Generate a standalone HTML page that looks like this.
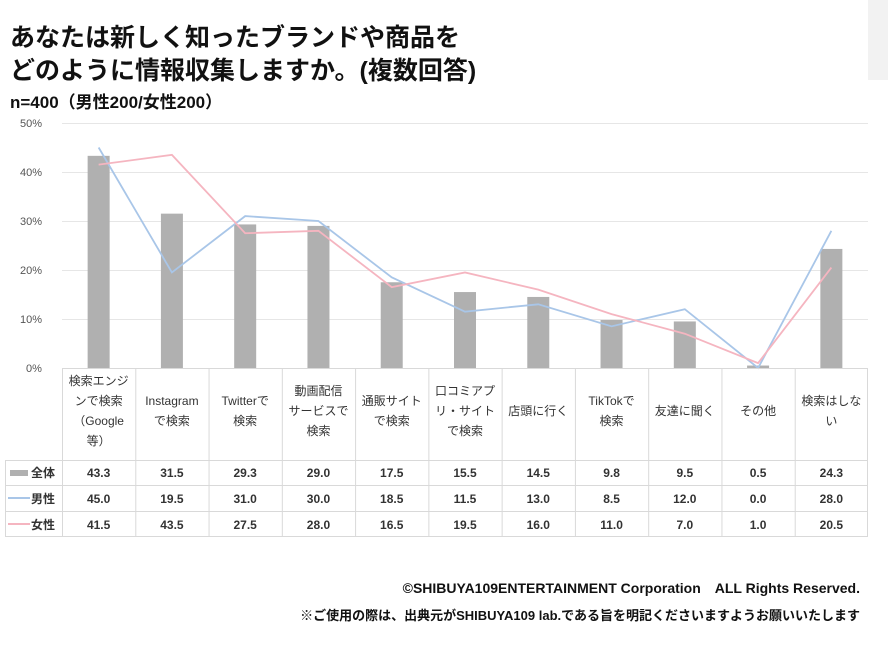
<!DOCTYPE html><html><head><meta charset="utf-8"><style>
body{margin:0;background:#fff;width:888px;height:654px;overflow:hidden;font-family:"Liberation Sans","Noto Sans CJK JP",sans-serif}
text{font-family:"Liberation Sans","Noto Sans CJK JP",sans-serif}
</style></head><body>
<svg width="888" height="654" xmlns="http://www.w3.org/2000/svg">
<rect x="868" y="0" width="20" height="80" fill="#f2f2f2"/>
<g font-weight="bold" fill="#111">
<text x="10" y="46" font-size="25">あなたは新しく知ったブランドや商品を</text>
<text x="10" y="79" font-size="25">どのように情報収集しますか。(複数回答)</text>
<text x="10" y="108" font-size="17">n=400（男性200/女性200）</text>
</g>
<g font-size="11" fill="#555">
<text x="20" y="127">50%</text><text x="20" y="176">40%</text><text x="20" y="225">30%</text><text x="20" y="274">20%</text><text x="20" y="323">10%</text><text x="26" y="372">0%</text>
</g>
<g stroke="#e6e6e6" stroke-width="1">
<line x1="62" x2="868" y1="123.5" y2="123.5"/><line x1="62" x2="868" y1="172.5" y2="172.5"/><line x1="62" x2="868" y1="221.5" y2="221.5"/><line x1="62" x2="868" y1="270.5" y2="270.5"/><line x1="62" x2="868" y1="319.5" y2="319.5"/>
</g>
<g fill="#b0b0b0" id="bars"></g>
<polyline id="m" fill="none" stroke="#a9c6e8" stroke-width="1.8"/>
<polyline id="f" fill="none" stroke="#f5b5c0" stroke-width="1.8"/>
<g stroke="#d9d9d9" stroke-width="1" fill="none">
<line x1="62" x2="868" y1="368.5" y2="368.5"/>
<line x1="867.5" x2="867.5" y1="368" y2="537"/>
<line x1="5.5" x2="5.5" y1="460" y2="537"/>
<line x1="5" x2="868" y1="460.5" y2="460.5"/><line x1="5" x2="868" y1="485.5" y2="485.5"/><line x1="5" x2="868" y1="511.5" y2="511.5"/><line x1="5" x2="868" y1="536.5" y2="536.5"/>
<g id="vl"></g>
</g>
<g font-size="12" fill="#333" text-anchor="middle" id="hdr"></g>
<g font-size="12" fill="#333" font-weight="bold" text-anchor="middle" id="vals"></g>
<rect x="10" y="470" width="18" height="6" fill="#b0b0b0"/>
<line x1="8" x2="30" y1="498" y2="498" stroke="#a9c6e8" stroke-width="2"/>
<line x1="8" x2="30" y1="524" y2="524" stroke="#f5b5c0" stroke-width="2"/>
<g font-size="12" font-weight="bold" fill="#333"><text x="31" y="477">全体</text><text x="31" y="503">男性</text><text x="31" y="529">女性</text></g>
<g font-weight="bold" fill="#111" text-anchor="end">
<text x="860" y="593" font-size="14">©SHIBUYA109ENTERTAINMENT Corporation　ALL Rights Reserved.</text>
<text x="860" y="620" font-size="13">※ご使用の際は、出典元がSHIBUYA109 lab.である旨を明記くださいますようお願いいたします</text>
</g>
</svg>
<script>
const a=[43.3,31.5,29.3,29.0,17.5,15.5,14.5,9.8,9.5,0.5,24.3],m=[45,19.5,31,30,18.5,11.5,13,8.5,12,0,28],f=[41.5,43.5,27.5,28,16.5,19.5,16,11,7,1,20.5];
const hd=[["検索エンジ","ンで検索","（Google","等）"],["Instagram","で検索"],["Twitterで","検索"],["動画配信","サービスで","検索"],["通販サイト","で検索"],["口コミアプ","リ・サイト","で検索"],["店頭に行く"],["TikTokで","検索"],["友達に聞く"],["その他"],["検索はしな","い"]];
const W=(868-62)/11,y=v=>368-v*4.9;
let b="",vl="",h="",vs="";const mp=[],fp=[];
for(let i=0;i<11;i++){const c=62+W*i+W/2;b+=`<rect x="${c-11}" y="${y(a[i])}" width="22" height="${368-y(a[i])}"/>`;
mp.push(c+","+y(m[i]));fp.push(c+","+y(f[i]));
vl+=`<line x1="${62+W*i+.5}" x2="${62+W*i+.5}" y1="368" y2="537"/>`;
const L=hd[i],st=415-(L.length-1)*10;L.forEach((t,k)=>h+=`<text x="${c}" y="${st+k*20}">${t}</text>`);
vs+=`<text x="${c}" y="477">${a[i].toFixed(1)}</text><text x="${c}" y="503">${m[i].toFixed(1)}</text><text x="${c}" y="529">${f[i].toFixed(1)}</text>`;}
document.getElementById("bars").innerHTML=b;document.getElementById("vl").innerHTML=vl;document.getElementById("hdr").innerHTML=h;document.getElementById("vals").innerHTML=vs;
document.getElementById("m").setAttribute("points",mp.join(" "));document.getElementById("f").setAttribute("points",fp.join(" "));
</script>
</body></html>
